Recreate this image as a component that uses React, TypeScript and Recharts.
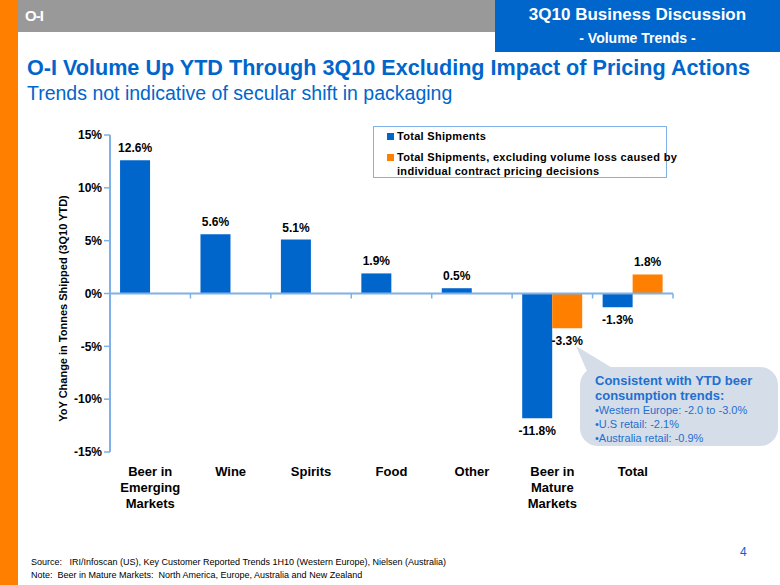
import React from 'react';
import { BarChart, Bar, XAxis, YAxis, LabelList, ReferenceLine, Label } from 'recharts';

const categories = [
  'Beer in\nEmerging\nMarkets',
  'Wine',
  'Spirits',
  'Food',
  'Other',
  'Beer in\nMature\nMarkets',
  'Total',
];
const totalShipments = [12.6, 5.6, 5.1, 1.9, 0.5, -11.8, -1.3];
const excludingPricing = [null, null, null, null, null, -3.3, 1.8];
const yTicks = [-15, -10, -5, 0, 5, 10, 15];

const seriesNames = [
  'Total Shipments',
  'Total Shipments, excluding volume loss caused by\nindividual contract pricing decisions',
];

const data = categories.map((c, i) => ({
  name: c,
  total: totalShipments[i],
  excl: excludingPricing[i],
}));

const FONT = "Arial, 'Liberation Sans', Helvetica, sans-serif";
const BLUE = '#0066cc';
const ORANGE = '#ff8000';
const AXIS = '#7fb0e6';

// plot geometry
const W = 780;
const H = 585;
const PLOT_LEFT = 110;
const PLOT_RIGHT = 673;
const PLOT_TOP = 135;
const PLOT_BOTTOM = 452;
const BAND = (PLOT_RIGHT - PLOT_LEFT) / categories.length;
const ZERO_Y = (PLOT_TOP + PLOT_BOTTOM) / 2;

const CategoryTick = (props: any) => {
  const { x, y, payload, index } = props;
  const lines = String(payload.value).split('\n');
  const left = x - BAND / 2;
  const right = x + BAND / 2;
  return (
    <g>
      {index > 0 && <line x1={left} x2={left} y1={ZERO_Y} y2={ZERO_Y + 5} stroke={AXIS} strokeWidth={1.5} />}
      {index === categories.length - 1 && (
        <line x1={right} x2={right} y1={ZERO_Y} y2={ZERO_Y + 5} stroke={AXIS} strokeWidth={1.5} />
      )}
      <text x={x} y={y} textAnchor="middle" fontFamily={FONT} fontWeight="bold" fontSize={13} fill="#000">
        {lines.map((l, i) => (
          <tspan key={i} x={x} dy={i === 0 ? 16 : 16}>
            {l}
          </tspan>
        ))}
      </text>
    </g>
  );
};

const ValueLabel = (props: any) => {
  const { x, y, width, height, value } = props;
  if (value === null || value === undefined) return null;
  const top = Math.min(y, y + height);
  const bottom = Math.max(y, y + height);
  const ty = value >= 0 ? top - 8 : bottom + 17;
  return (
    <text x={x + width / 2} y={ty} textAnchor="middle" fontFamily={FONT} fontWeight="bold" fontSize={12} fill="#000">
      {`${value.toFixed(1)}%`}
    </text>
  );
};

export default function App() {
  return (
    <div style={{ position: 'absolute', left: 0, top: 0, width: W, height: H, background: '#fff', overflow: 'hidden', fontFamily: FONT }}>
      <BarChart
        width={W}
        height={H}
        data={data}
        margin={{ top: PLOT_TOP, right: W - PLOT_RIGHT, bottom: H - PLOT_BOTTOM - 60, left: PLOT_LEFT - 60 }}
        barCategoryGap="12.5%"
        barGap={0}
      >
        <XAxis dataKey="name" axisLine={false} tickLine={false} tick={<CategoryTick />} height={60} interval={0} />
        <YAxis
          width={60}
          domain={[-15, 15]}
          ticks={yTicks}
          tickFormatter={(v: number) => `${v}%`}
          axisLine={{ stroke: AXIS, strokeWidth: 2 }}
          tickLine={{ stroke: AXIS, strokeWidth: 1.5 }}
          tickSize={6}
          tickMargin={2}
          tick={{ fontFamily: FONT, fontWeight: 'bold', fontSize: 12, fill: '#000' }}
        >
          <Label
            content={(p: any) => {
              const vb = p.viewBox;
              const cx = 63;
              const cy = vb.y + vb.height / 2 + 15;
              return (
                <text
                  x={cx}
                  y={cy}
                  transform={`rotate(-90 ${cx} ${cy})`}
                  textAnchor="middle"
                  dominantBaseline="central"
                  fontFamily={FONT}
                  fontWeight="bold"
                  fontSize={11}
                  fill="#000"
                >
                  YoY Change in Tonnes Shipped (3Q10 YTD)
                </text>
              );
            }}
          />
        </YAxis>
        <ReferenceLine y={0} stroke={AXIS} strokeWidth={2} />
        <Bar dataKey="total" name={seriesNames[0]} fill={BLUE} isAnimationActive={false}>
          <LabelList dataKey="total" content={<ValueLabel />} />
        </Bar>
        <Bar dataKey="excl" name={seriesNames[1]} fill={ORANGE} isAnimationActive={false}>
          <LabelList dataKey="excl" content={<ValueLabel />} />
        </Bar>
      </BarChart>

      {/* header */}
      <div style={{ position: 'absolute', left: 0, top: 0, width: 18, height: H, background: ORANGE }} />
      <div style={{ position: 'absolute', left: 18, top: 0, width: 478, height: 32, background: '#999999' }} />
      <div style={{ position: 'absolute', left: 25, top: 7, color: '#fff', fontWeight: 'bold', fontSize: 15, letterSpacing: -1 }}>O-I</div>
      <div style={{ position: 'absolute', left: 495, top: 0, width: 285, height: 52, background: BLUE, color: '#fff', fontWeight: 'bold', textAlign: 'center' }}>
        <div style={{ fontSize: 17, lineHeight: '20px', marginTop: 5 }}>3Q10 Business Discussion</div>
        <div style={{ fontSize: 14, lineHeight: '18px', marginTop: 4 }}>- Volume Trends -</div>
      </div>
      <div style={{ position: 'absolute', left: 27, top: 55, color: BLUE, fontWeight: 'bold', fontSize: 21.6, lineHeight: '26px', whiteSpace: 'nowrap' }}>
        O-I Volume Up YTD Through 3Q10 Excluding Impact of Pricing Actions
      </div>
      <div style={{ position: 'absolute', left: 27, top: 82, color: BLUE, fontSize: 19.5, lineHeight: '22px', whiteSpace: 'nowrap' }}>
        Trends not indicative of secular shift in packaging
      </div>

      {/* legend */}
      <div style={{ position: 'absolute', left: 373, top: 126, width: 292, height: 50, border: `1px solid ${AXIS}`, background: '#fff', fontSize: 11, fontWeight: 'bold', color: '#000', letterSpacing: 0.3 }}>
        <div style={{ position: 'absolute', left: 13, top: 6, width: 7, height: 7, background: BLUE }} />
        <div style={{ position: 'absolute', left: 23, top: 2, lineHeight: '14px', whiteSpace: 'pre' }}>{seriesNames[0]}</div>
        <div style={{ position: 'absolute', left: 13, top: 27, width: 7, height: 7, background: ORANGE }} />
        <div style={{ position: 'absolute', left: 23, top: 23, lineHeight: '14px', whiteSpace: 'pre' }}>{seriesNames[1]}</div>
      </div>

      {/* callout */}
      <svg style={{ position: 'absolute', left: 0, top: 0 }} width={W} height={H}>
        <rect x={580} y={367} width={198} height={79} rx={18} ry={18} fill="#d5dde9" />
        <polygon points="576,346 614,369 590,378" fill="#d5dde9" />
      </svg>
      <div style={{ position: 'absolute', left: 595, top: 373, color: '#1f6fd0', whiteSpace: 'nowrap' }}>
        <div style={{ fontSize: 13, fontWeight: 'bold', lineHeight: '15px' }}>Consistent with YTD beer</div>
        <div style={{ fontSize: 13, fontWeight: 'bold', lineHeight: '15px' }}>consumption trends:</div>
        <div style={{ fontSize: 11, lineHeight: '14px' }}>•Western Europe: -2.0 to -3.0%</div>
        <div style={{ fontSize: 11, lineHeight: '14px' }}>•U.S retail: -2.1%</div>
        <div style={{ fontSize: 11, lineHeight: '14px' }}>•Australia retail: -0.9%</div>
      </div>

      {/* footer */}
      <div style={{ position: 'absolute', left: 740, top: 545, color: BLUE, fontSize: 12 }}>4</div>
      <div style={{ position: 'absolute', left: 31, top: 556, fontSize: 9, lineHeight: '13px', color: '#000', whiteSpace: 'pre' }}>
        <div>{'Source:   IRI/Infoscan (US), Key Customer Reported Trends 1H10 (Western Europe), Nielsen (Australia)'}</div>
        <div>{'Note:  Beer in Mature Markets:  North America, Europe, Australia and New Zealand'}</div>
      </div>
    </div>
  );
}
